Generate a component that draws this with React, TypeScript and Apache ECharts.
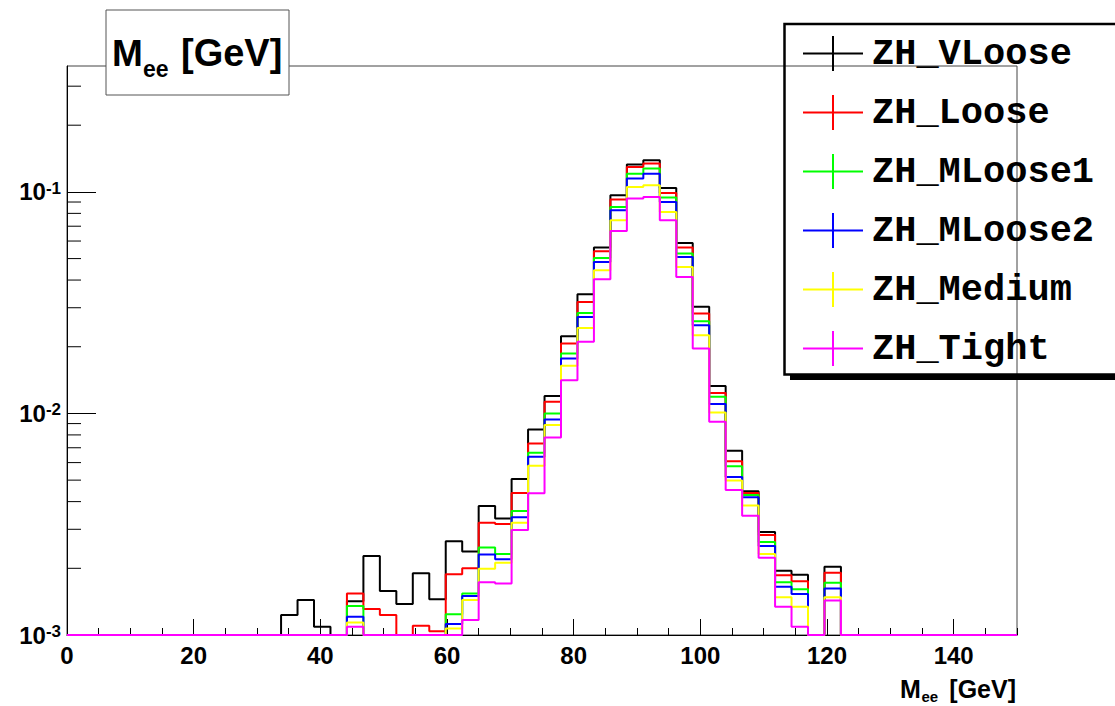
import React, { useEffect, useRef } from 'react';
import * as echarts from 'echarts';

// ---- binning / ranges ----
const BIN_WIDTH = 2.6;
const FIRST_BIN = 13; // first bin index stored in the arrays below
const X_MIN = 0;
const X_MAX = 150;
const Y_MIN = 0.001;
const Y_MAX = 0.37;

// ---- series ----
const seriesNames = ['ZH_VLoose', 'ZH_Loose', 'ZH_MLoose1', 'ZH_MLoose2', 'ZH_Medium', 'ZH_Tight'];
const seriesColors = ['#000000', '#ff0000', '#00ff00', '#0000ff', '#ffff00', '#ff00ff'];

// bin contents, bins 13..46 (bin k spans [2.6k, 2.6k+2.6])
const vLoose = [
  0.00123, 0.00144, 0.00109, 0, 0.00142, 0.00227, 0.00158, 0.00138, 0.0019, 0.00145,
  0.00265, 0.00238, 0.00382, 0.00336, 0.00506, 0.00847, 0.012, 0.0223, 0.0345, 0.0561,
  0.0965, 0.133, 0.139, 0.104, 0.0588, 0.0303, 0.0133, 0.00678, 0.00446, 0.00292,
  0.00195, 0.00187, 0, 0.00203,
];
const loose = [
  0, 0, 0, 0, 0.00154, 0.00131, 0.00123, 0, 0.0011, 0.00104,
  0.00188, 0.002, 0.00321, 0.00317, 0.00438, 0.00732, 0.01128, 0.02069, 0.03187, 0.05397,
  0.0923, 0.1295, 0.1342, 0.0989, 0.0561, 0.02826, 0.01238, 0.00609, 0.00438, 0.00283,
  0.00186, 0.00175, 0, 0.00191,
];
const mLoose1 = [
  0, 0, 0, 0, 0.00135, 0, 0, 0, 0, 0,
  0.00124, 0.00154, 0.00248, 0.00232, 0.00363, 0.00664, 0.01, 0.01865, 0.02843, 0.05033,
  0.0855, 0.1209, 0.1274, 0.0943, 0.0527, 0.02609, 0.01188, 0.00577, 0.00428, 0.00263,
  0.00173, 0.00161, 0, 0.00172,
];
const mLoose2 = [
  0, 0, 0, 0, 0.00121, 0, 0, 0, 0, 0,
  0.00112, 0.0015, 0.00231, 0.0022, 0.0034, 0.00637, 0.0094, 0.0177, 0.02727, 0.04829,
  0.0826, 0.1148, 0.1209, 0.09, 0.05086, 0.02502, 0.01102, 0.00516, 0.00419, 0.00252,
  0.00165, 0.00153, 0, 0.00162,
];
const medium = [
  0, 0, 0, 0, 0.00114, 0, 0, 0, 0, 0,
  0.00107, 0.00144, 0.00199, 0.00212, 0.00321, 0.0058, 0.00886, 0.0164, 0.02433, 0.04429,
  0.0745, 0.1052, 0.1071, 0.0812, 0.04584, 0.02256, 0.0101, 0.00498, 0.00384, 0.00232,
  0.00148, 0.00134, 0, 0.00148,
];
const tight = [
  0, 0, 0, 0, 0.00109, 0, 0, 0, 0, 0,
  0, 0.00117, 0.00173, 0.00171, 0.00298, 0.00436, 0.00779, 0.01413, 0.02104, 0.04035,
  0.0666, 0.0933, 0.0948, 0.0745, 0.04133, 0.01964, 0.00917, 0.00451, 0.00345, 0.00223,
  0.00134, 0.00109, 0, 0.00143,
];
const seriesValues = [vLoose, loose, mLoose1, mLoose2, medium, tight];

// ---- ticks ----
const yMinorTicks = [
  0.002, 0.003, 0.004, 0.005, 0.006, 0.007, 0.008, 0.009,
  0.02, 0.03, 0.04, 0.05, 0.06, 0.07, 0.08, 0.09,
  0.2, 0.3,
];
const X_MAJOR_INTERVAL = 20;
const X_MINOR_INTERVAL = 5;

const SANS = '"Liberation Sans", Arial, Helvetica, sans-serif';
const MONO = '"Liberation Mono", "Courier New", monospace';

function stepPoints(vals: number[]): number[][] {
  const nBins = Math.ceil((X_MAX - X_MIN) / BIN_WIDTH);
  const pts: number[][] = [];
  for (let k = 0; k < nBins; k++) {
    const i = k - FIRST_BIN;
    const v = i >= 0 && i < vals.length ? vals[i] : 0;
    pts.push([+(X_MIN + k * BIN_WIDTH).toFixed(4), v > Y_MIN ? v : Y_MIN]);
  }
  pts.push([X_MAX, pts[pts.length - 1][1]]);
  return pts;
}

export default function App() {
  const ref = useRef<HTMLDivElement>(null);

  useEffect(() => {
    if (!ref.current) return;
    const chart = echarts.init(ref.current, undefined, { renderer: 'svg' });

    const lineSeries = seriesNames.map((name, i) => ({
      type: 'line',
      name,
      data: stepPoints(seriesValues[i]),
      step: 'end',
      symbol: 'none',
      showSymbol: false,
      clip: false,
      lineStyle: { color: seriesColors[i], width: 2 },
      itemStyle: { color: seriesColors[i] },
      z: 3 + i,
      silent: true,
    }));

    const option: any = {
      animation: false,
      backgroundColor: '#ffffff',
      grid: {
        left: 67,
        right: 98,
        top: 66,
        bottom: 71,
        show: true,
        borderColor: '#444444',
        borderWidth: 1,
        backgroundColor: 'transparent',
      },
      xAxis: [
        {
          type: 'value',
          position: 'bottom',
          min: X_MIN,
          max: X_MAX,
          interval: X_MAJOR_INTERVAL,
          axisLine: { show: true, lineStyle: { color: '#000', width: 1 } },
          axisTick: { show: true, inside: true, length: 16, lineStyle: { color: '#000', width: 1 } },
          axisLabel: {
            show: true,
            showMaxLabel: false,
            fontFamily: SANS,
            fontWeight: 'bold',
            fontSize: 24,
            color: '#000',
            margin: 8,
          },
          splitLine: { show: false },
        },
        {
          type: 'value',
          position: 'bottom',
          min: X_MIN,
          max: X_MAX,
          interval: X_MINOR_INTERVAL,
          axisLine: { show: false },
          axisTick: { show: true, inside: true, length: 7, lineStyle: { color: '#000', width: 1 } },
          axisLabel: { show: false },
          splitLine: { show: false },
        },
      ],
      yAxis: {
        type: 'log',
        logBase: 10,
        min: Y_MIN,
        max: Y_MAX,
        axisLine: { show: true, lineStyle: { color: '#000', width: 1 } },
        axisTick: { show: true, inside: true, length: 29, lineStyle: { color: '#000', width: 1 } },
        axisLabel: {
          show: true,
          showMaxLabel: false,
          margin: 6,
          formatter: (v: number) => `{b|10}{s|${Math.round(Math.log10(v))}}`,
          rich: {
            b: { fontFamily: SANS, fontWeight: 'bold', fontSize: 24, color: '#000' },
            s: { fontFamily: SANS, fontWeight: 'bold', fontSize: 17, color: '#000', verticalAlign: 'top' },
          },
        },
        splitLine: { show: false },
      },
      legend: {
        orient: 'vertical',
        left: 797,
        top: 30,
        itemWidth: 60,
        itemHeight: 35,
        itemGap: 22,
        selectedMode: false,
        textStyle: {
          fontFamily: MONO,
          fontWeight: 'bold',
          fontSize: 37,
          lineHeight: 35,
          color: '#000',
          padding: [0, 0, 0, 4],
        },
        data: seriesNames.map((name, i) => ({
          name,
          icon: 'path://M0,17.5L60,17.5M30,0L30,35',
          itemStyle: { color: 'transparent', borderColor: seriesColors[i], borderWidth: 2 },
        })),
      },
      graphic: [
        // title box
        {
          type: 'rect',
          z: 100,
          shape: { x: 106, y: 10, width: 183, height: 85 },
          style: { fill: '#ffffff', stroke: '#555555', lineWidth: 1 },
        },
        {
          type: 'text', z: 101, x: 112, y: 53,
          style: { text: 'M', font: `bold 37px ${SANS}`, fill: '#000', textAlign: 'left', textVerticalAlign: 'middle' },
        },
        {
          type: 'text', z: 101, x: 143, y: 69,
          style: { text: 'ee', font: `bold 23px ${SANS}`, fill: '#000', textAlign: 'left', textVerticalAlign: 'middle' },
        },
        {
          type: 'text', z: 101, x: 181, y: 53,
          style: { text: '[GeV]', font: `bold 38px ${SANS}`, fill: '#000', textAlign: 'left', textVerticalAlign: 'middle' },
        },
        // legend frame and shadow
        {
          type: 'rect', z: 100,
          shape: { x: 790, y: 375, width: 400, height: 5 },
          style: { fill: '#000' },
        },
        {
          type: 'rect', z: 100,
          shape: { x: 784.5, y: 24, width: 400, height: 350.5 },
          style: { fill: 'none', stroke: '#000', lineWidth: 2.5 },
        },
        // x-axis title
        {
          type: 'text', z: 101, x: 900, y: 689,
          style: { text: 'M', font: `bold 25px ${SANS}`, fill: '#000', textAlign: 'left', textVerticalAlign: 'middle' },
        },
        {
          type: 'text', z: 101, x: 921.5, y: 696,
          style: { text: 'ee', font: `bold 15px ${SANS}`, fill: '#000', textAlign: 'left', textVerticalAlign: 'middle' },
        },
        {
          type: 'text', z: 101, x: 1016, y: 689,
          style: { text: '[GeV]', font: `bold 25px ${SANS}`, fill: '#000', textAlign: 'right', textVerticalAlign: 'middle' },
        },
      ],
      series: [
        ...lineSeries,
        {
          type: 'custom',
          silent: true,
          clip: false,
          z: 2,
          data: yMinorTicks.map((v) => [X_MIN, v]),
          renderItem: (params: any, api: any) => {
            const p = api.coord([api.value(0), api.value(1)]);
            return {
              type: 'line',
              shape: { x1: p[0], y1: p[1], x2: p[0] + 14, y2: p[1] },
              style: { stroke: '#000', lineWidth: 1 },
            };
          },
        },
      ],
    };

    chart.setOption(option);
    return () => {
      chart.dispose();
    };
  }, []);

  return (
    <div
      ref={ref}
      style={{ position: 'absolute', left: 0, top: 0, width: 1115, height: 706, background: '#fff' }}
    />
  );
}
